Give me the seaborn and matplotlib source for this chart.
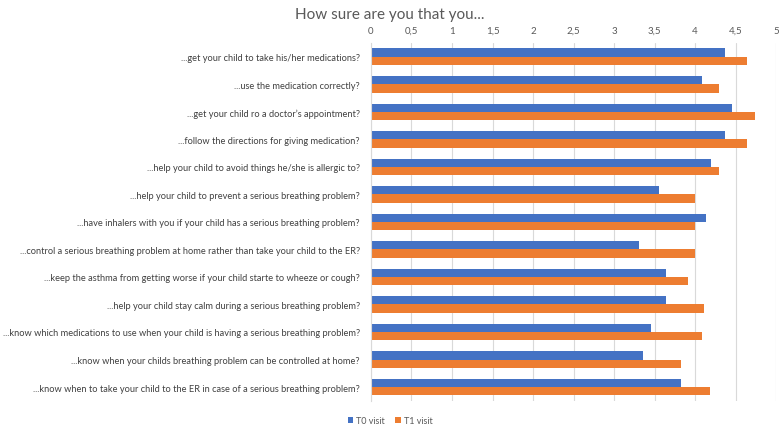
import matplotlib
matplotlib.use("Agg")
import matplotlib.pyplot as plt
import seaborn as sns
import pandas as pd
from matplotlib.ticker import FuncFormatter, MultipleLocator

questions = [
    "...get your child to take his/her medications?",
    "...use the medication correctly?",
    "...get your child ro a doctor\u2019s appointment?",
    "...follow the directions for giving medication?",
    "...help your child to avoid things he/she is allergic to?",
    "...help your child to prevent a serious breathing problem?",
    "...have inhalers with you if your child has a serious breathing problem?",
    "...control a serious breathing problem at home rather than take your child to the ER?",
    "...keep the asthma from getting worse if your child starte to wheeze or cough?",
    "...help your child stay calm during a serious breathing problem?",
    "...know which medications to use when your child is having a serious breathing problem?",
    "...know when your childs breathing problem can be controlled at home?",
    "...know when to take your child to the ER in case of a serious breathing problem?",
]
t0_visit = [4.37, 4.09, 4.46, 4.37, 4.20, 3.55, 4.13, 3.31, 3.64, 3.64, 3.46, 3.36, 3.83]
t1_visit = [4.64, 4.29, 4.74, 4.64, 4.29, 4.00, 4.00, 4.00, 3.91, 4.11, 4.09, 3.83, 4.19]
series_names = ["T0 visit", "T1 visit"]

df = pd.DataFrame({
    "question": questions * 2,
    "score": t0_visit + t1_visit,
    "visit": [series_names[0]] * len(questions) + [series_names[1]] * len(questions),
})

sns.set_theme(style="white")
plt.rcParams["font.family"] = ["Lato", "DejaVu Sans"]

fig = plt.figure(figsize=(7.8, 4.27), dpi=100)
ax = fig.add_axes([0.4756, 0.059, 0.5194, 0.838])

sns.barplot(data=df, y="question", x="score", hue="visit", order=questions,
            hue_order=series_names, palette=["#4472C4", "#ED7D31"], saturation=1,
            width=0.6, orient="h", ax=ax, linewidth=0, errorbar=None)

ax.set_xlim(0, 5)
ax.xaxis.set_major_locator(MultipleLocator(0.5))
ax.xaxis.set_major_formatter(FuncFormatter(lambda v, p: f"{v:g}".replace(".", ",")))
ax.xaxis.tick_top()
ax.xaxis.set_label_position("top")
ax.set_xlabel("")
ax.set_ylabel("")
ax.grid(axis="x", color="#D9D9D9", linewidth=0.8)
ax.set_axisbelow(True)
for s in ["top", "right", "bottom"]:
    ax.spines[s].set_visible(False)
ax.spines["left"].set_color("#D9D9D9")
ax.spines["left"].set_linewidth(0.8)
ax.tick_params(axis="x", length=0, labelsize=7, colors="#595959", pad=6)
ax.tick_params(axis="y", length=0, labelsize=6.7, colors="#404040", pad=8)

fig.text(0.5, 0.965, "How sure are you that you...", ha="center", va="center",
         fontsize=11, color="#595959")

handles, labels = ax.get_legend_handles_labels()
ax.get_legend().remove()
leg = fig.legend(handles, labels, loc="center", bbox_to_anchor=(0.5, 0.012),
                 ncol=2, frameon=False, fontsize=6.5, handlelength=0.6, handleheight=0.6,
                 handletextpad=0.3, columnspacing=1.2, borderpad=0.1)
for t in leg.get_texts():
    t.set_color("#595959")

fig.savefig("out.png", dpi=100, facecolor="white")
